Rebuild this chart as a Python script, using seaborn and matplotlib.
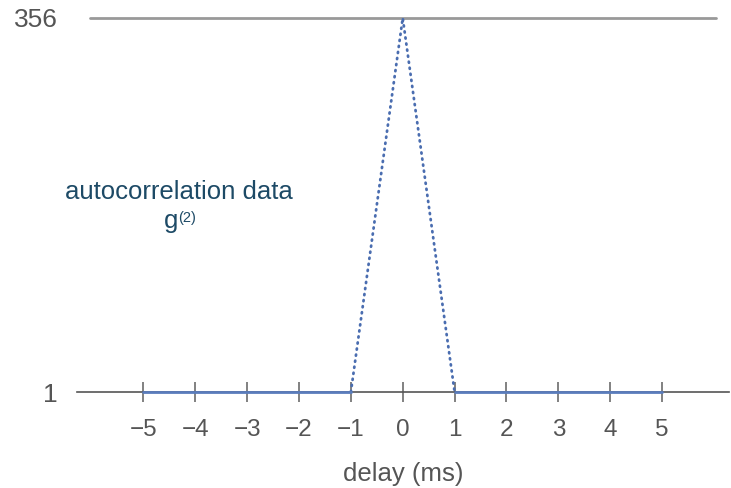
import numpy as np
import pandas as pd
import matplotlib
matplotlib.use("Agg")
import matplotlib.pyplot as plt
import seaborn as sns

# values
delay = [-5, -1, 0, 1, 5]
g2 = [1, 1, 356, 1, 1]
x_ticks = [-5, -4, -3, -2, -1, 0, 1, 2, 3, 4, 5]
y_ticks = [1, 356]

sns.set_style("white")
plt.rcParams['font.family'] = ['Liberation Sans', 'DejaVu Sans']
plt.rcParams['axes.unicode_minus'] = True

df = pd.DataFrame({'delay': delay, 'g2': g2})
left = df.iloc[0:2]
peak = df.iloc[1:4]
right = df.iloc[3:5]

fig = plt.figure(figsize=(7.31, 4.88), dpi=100)
ax = fig.add_axes([77 / 731, (488 - 392) / 488, 652 / 731, (392 - 18) / 488])

line_col = "#4a6db0"
sns.lineplot(ax=ax, data=peak, x='delay', y='g2', color=line_col, lw=2.0,
             linestyle=(0, (0.4, 1.8)), dash_capstyle='round', clip_on=False, zorder=4)
for seg in (left, right):
    sns.lineplot(ax=ax, data=seg, x='delay', y='g2', color="#5a7cbc", lw=2.0,
                 clip_on=False, zorder=5)

ax.set_xlim(-6.28, 6.29)
ax.set_ylim(1, 356)

# top reference line
ax.axhline(356, xmin=13 / 652, xmax=639 / 652, color="#999999", lw=2, zorder=0, clip_on=False)

for s in ['top', 'right', 'left']:
    ax.spines[s].set_visible(False)
ax.spines['bottom'].set_color("#555555")
ax.spines['bottom'].set_linewidth(1.2)
ax.spines['bottom'].set_zorder(1)

ax.set_xticks(x_ticks)
ax.set_yticks(y_ticks)
ax.tick_params(axis='x', bottom=True, direction='inout', length=14, width=1.3, color="#777777",
               labelsize=17.5, labelcolor="#555555", pad=12.5)
ax.tick_params(axis='y', left=False, length=0, labelsize=19, labelcolor="#555555", pad=14)

ax.set_xlabel("delay (ms)", fontsize=18.5, color="#555555", labelpad=15)
ax.set_ylabel("")

ann_col = "#1d4a66"
ax.text(-4.31, 191, "autocorrelation data", fontsize=18.5, color=ann_col,
        ha='center', va='center')
ax.text(-4.33, 157, "g", fontsize=18.5, color=ann_col, ha='right', va='baseline')
ax.text(-4.33, 162.5, "(2)", fontsize=10.5, color=ann_col, ha='left', va='baseline')

fig.savefig("out.png", dpi=100)
